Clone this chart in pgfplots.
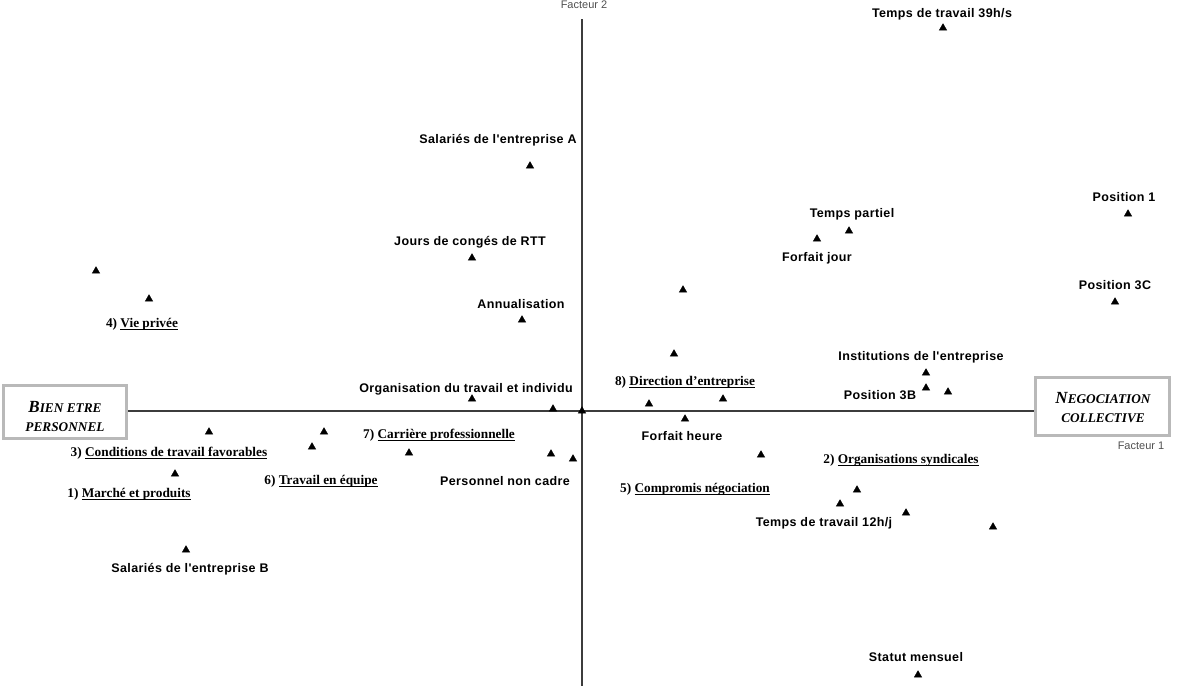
\documentclass[border=0pt]{standalone}
\usepackage{pgfplots}
\pgfplotsset{compat=1.18}
\usepackage{fontspec}
\setmainfont{Liberation Serif}
\newfontfamily\lab[LetterSpace=3]{Liberation Sans}
\newfontfamily\fac{Liberation Sans}
\definecolor{boxgray}{RGB}{185,185,185}
\definecolor{axgray}{RGB}{60,60,60}
\definecolor{facgray}{RGB}{80,80,80}

% sans label: x, y (visual centre, pixel coords), text
\newcommand\slab[3]{\node[anchor=base,inner sep=0pt,font=\lab\bfseries\fontsize{12.5}{14}\selectfont] at (axis cs:#1,#2+4.5) {#3};}
% numbered serif label
\newcommand\tlab[4]{\node[anchor=base,inner sep=0pt,font=\bfseries\fontsize{13.3}{15}\selectfont] at (axis cs:#1,#2+4.8) {#3)~\underline{\smash{#4}}};}

\begin{document}
\begin{tikzpicture}
\begin{axis}[
 scale only axis,width=1179pt,height=686pt,
 xmin=0,xmax=1179,ymin=0,ymax=686,y dir=reverse,
 axis lines=none,ticks=none,clip=false,
]
% factor axes
\draw[axgray,line width=1.1pt] (axis cs:127,411) -- (axis cs:1035,411);
\draw[axgray,line width=1.1pt] (axis cs:582,19) -- (axis cs:582,686);

% pole boxes
\draw[boxgray,line width=3pt,fill=white] (axis cs:3,385) rectangle (axis cs:126,438);
\node[font=\bfseries\itshape] at (axis cs:65,407) {{\fontsize{17}{17}\selectfont B}{\fontsize{13.3}{15}\selectfont IEN ETRE}};
\node[font=\bfseries\itshape\fontsize{13.3}{15}\selectfont] at (axis cs:65,427) {PERSONNEL};
\draw[boxgray,line width=3pt,fill=white] (axis cs:1035,377) rectangle (axis cs:1169,435);
\node[font=\bfseries\itshape] at (axis cs:1103,398) {{\fontsize{17}{17}\selectfont N}{\fontsize{13.3}{15}\selectfont EGOCIATION}};
\node[font=\bfseries\itshape\fontsize{13.3}{15}\selectfont] at (axis cs:1103,418) {COLLECTIVE};

\node[font=\fac\fontsize{11}{12}\selectfont,text=facgray] at (axis cs:584,5) {Facteur 2};
\node[font=\fac\fontsize{11}{12}\selectfont,text=facgray] at (axis cs:1141,446) {Facteur 1};

\addplot[only marks,mark=triangle*,mark size=4.3pt,black] table[row sep=\\]{
 x y\\
 943 28\\ 530 166\\ 1128 214\\ 849 231\\ 817 239\\ 472 258\\
 96 271\\ 149 299\\ 683 290\\ 1115 302\\ 522 320\\ 674 354\\
 926 373\\ 926 388\\ 948 392\\ 472 399\\ 553 409\\ 582 411\\
 649 404\\ 723 399\\ 685 419\\ 209 432\\ 324 432\\ 312 447\\
 409 453\\ 551 454\\ 573 459\\ 761 455\\ 175 474\\ 857 490\\
 840 504\\ 906 513\\ 993 527\\ 186 550\\ 918 675\\
};

\slab{942}{13}{Temps de travail 39h/s}
\slab{498}{139}{Salariés de l'entreprise A}
\slab{1124}{197}{Position 1}
\slab{852}{213}{Temps partiel}
\slab{817}{257}{Forfait jour}
\slab{470}{241}{Jours de congés de RTT}
\slab{1115}{285}{Position 3C}
\slab{521}{304}{Annualisation}
\slab{921}{356}{Institutions de l'entreprise}
\slab{880}{395}{Position 3B}
\slab{466}{388}{Organisation du travail et individu}
\slab{682}{436}{Forfait heure}
\slab{505}{481}{Personnel non cadre}
\slab{824}{522}{Temps de travail 12h/j}
\slab{190}{568}{Salariés de l'entreprise B}
\slab{916}{657}{Statut mensuel}

\tlab{142}{323}{4}{Vie privée}
\tlab{685}{381}{8}{Direction d’entreprise}
\tlab{439}{434}{7}{Carrière professionnelle}
\tlab{169}{452}{3}{Conditions de travail favorables}
\tlab{901}{459}{2}{Organisations syndicales}
\tlab{321}{480}{6}{Travail en équipe}
\tlab{695}{488}{5}{Compromis négociation}
\tlab{129}{493}{1}{Marché et produits}
\end{axis}
\pgfresetboundingbox
\path (current axis.south west) rectangle (current axis.north east);
\end{tikzpicture}
\end{document}
